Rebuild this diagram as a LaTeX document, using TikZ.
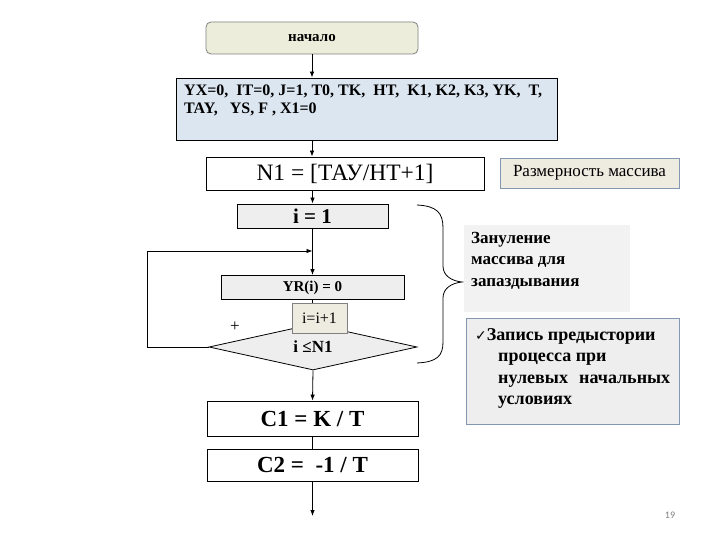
\documentclass[tikz,border=0pt]{standalone}
\usepackage{fontspec}
\setmainfont{Liberation Serif}
\newfontfamily\tnr{Liberation Serif}
\newfontfamily\symfont{DejaVu Sans}
\newfontfamily\numfont{Carlito}
\usetikzlibrary{shapes.geometric,arrows.meta}
\definecolor{startfill}{HTML}{EDEDDC}
\definecolor{initfill}{HTML}{DCE6F1}
\definecolor{grayfill}{HTML}{EEEEEE}
\definecolor{beigefill}{HTML}{EEECE1}
\definecolor{bluegray}{HTML}{8497B0}
\definecolor{softgray}{HTML}{F2F2F2}
\begin{document}
\begin{tikzpicture}[x=1pt,y=-1pt,
  box/.style={rectangle,draw=black,line width=0.8pt,inner sep=0pt},
  graybox/.style={box,fill=grayfill},
  arr/.style={-{Latex[length=6pt,width=4.5pt]},line width=0.8pt},
  ln/.style={line width=0.8pt},
  txt/.style={inner sep=0pt,anchor=north west,align=left}]
\useasboundingbox (0,0) rectangle (720,540);

% nodes
\node[box,rounded corners=5pt,draw=gray,fill=startfill,minimum width=212pt,minimum height=32pt,
  font=\tnr\bfseries\fontsize{15}{17}\selectfont] (start) at (312,38) {начало};
\node[box,fill=initfill,minimum width=381pt,minimum height=62pt] (init) at (366.5,109) {};
\node[txt,font=\tnr\bfseries\fontsize{16}{17.5}\selectfont] (inittext) at (184,85)
  {YX=0,\ \ IT=0, J=1, T0, TK,\ \ HT,\ \ K1, K2, K3, YK,\ \ T,\\TAY,\ \ \ YS, F , X1=0};
\node[box,fill=white,minimum width=278pt,minimum height=33pt,
  font=\tnr\fontsize{23.5}{26}\selectfont] (n1) at (345,173.5) {N1 = [ТАУ/НТ+1]};
\node[box,draw=bluegray,fill=beigefill,minimum width=179pt,minimum height=30pt,
  font=\tnr\fontsize{17}{20}\selectfont] (razm) at (589.5,173) {Размерность массива};
\node[graybox,minimum width=151pt,minimum height=24pt,
  font=\tnr\bfseries\fontsize{21}{24}\selectfont] (i1) at (312.5,216) {i = 1};
\node[graybox,minimum width=183pt,minimum height=24pt,
  font=\tnr\bfseries\fontsize{15}{18}\selectfont] (yr) at (312.5,287.5) {YR(i) = 0};
\node[diamond,draw=black,line width=0.8pt,fill=grayfill,inner sep=0pt,aspect=4.5,
  minimum width=208pt,minimum height=46pt,
  font=\tnr\bfseries\fontsize{17}{20}\selectfont] (dia) at (313,347) {\raisebox{-3pt}{i ≤N1}};
\node[box,fill=white,minimum width=211pt,minimum height=35pt,
  font=\tnr\bfseries\fontsize{23}{25}\selectfont] (c1) at (312.5,418.5) {C1 = K / T};
\node[box,fill=white,minimum width=211pt,minimum height=32pt,
  font=\tnr\bfseries\fontsize{23}{25}\selectfont] (c2) at (312.5,465) {C2 =\ \ -1 / T};

% brace
\draw[line width=0.8pt] (417,205) .. controls (437,206) and (443,213) .. (443,228)
  -- (443,266) .. controls (443,276) and (452,281) .. (462,282)
  .. controls (452,283) and (443,288) .. (443,298)
  -- (443,342) .. controls (443,356) and (437,362) .. (417,363);

% side notes
\node[rectangle,fill=softgray,inner sep=0pt,minimum width=166pt,minimum height=87pt] (zan) at (547,268.5) {};
\node[txt,font=\tnr\bfseries\fontsize{17}{21.5}\selectfont] (zantext) at (471,232)
  {Зануление\\массива для\\запаздывания};
\node[box,draw=bluegray,fill=grayfill,minimum width=213pt,minimum height=106pt] (zap) at (572.5,371) {};
\node[txt,font=\tnr\bfseries\fontsize{18}{21.5}\selectfont] (zaptext) at (475,328)
  {{\symfont\fontsize{14}{14}\selectfont ✓}Запись предыстории\\
   \hspace*{23pt}процесса при\\
   \hspace*{23pt}\makebox[172pt][s]{нулевых начальных}\\
   \hspace*{23pt}условиях};

% connectors
\coordinate (merge) at (312.5,251);
\coordinate (loopx) at (147,0);
\coordinate (endpt) at (312.5,516);
\draw[arr] (start.south) -- (start.south |- init.north);
\draw[arr] (init.south -| start) -- (n1.north -| start);
\draw[arr] (n1.south -| i1) -- (i1.north);
\draw[arr] (i1.south) -- (yr.north);
\draw[arr] (dia.west) -- (dia.west -| loopx) |- (merge);
\draw[ln] (yr.south) -- (dia.north);
\draw[arr] (dia.south) -- (c1.north);
\draw[ln] (c1.south) -- (c2.north);
\draw[arr] (c2.south) -- (endpt);

% increment box on top
\node[box,draw=gray,fill=beigefill,minimum width=55pt,minimum height=30pt,
  font=\tnr\fontsize{16}{19}\selectfont] (inc) at (319.5,318) {i=i+1};
\node[inner sep=0pt,font=\tnr\fontsize{17}{19}\selectfont] (plus) at (235,327) {+};

\node[inner sep=0pt,text=gray,font=\numfont\fontsize{10}{12}\selectfont] (page) at (670,515) {19};
\end{tikzpicture}
\end{document}
